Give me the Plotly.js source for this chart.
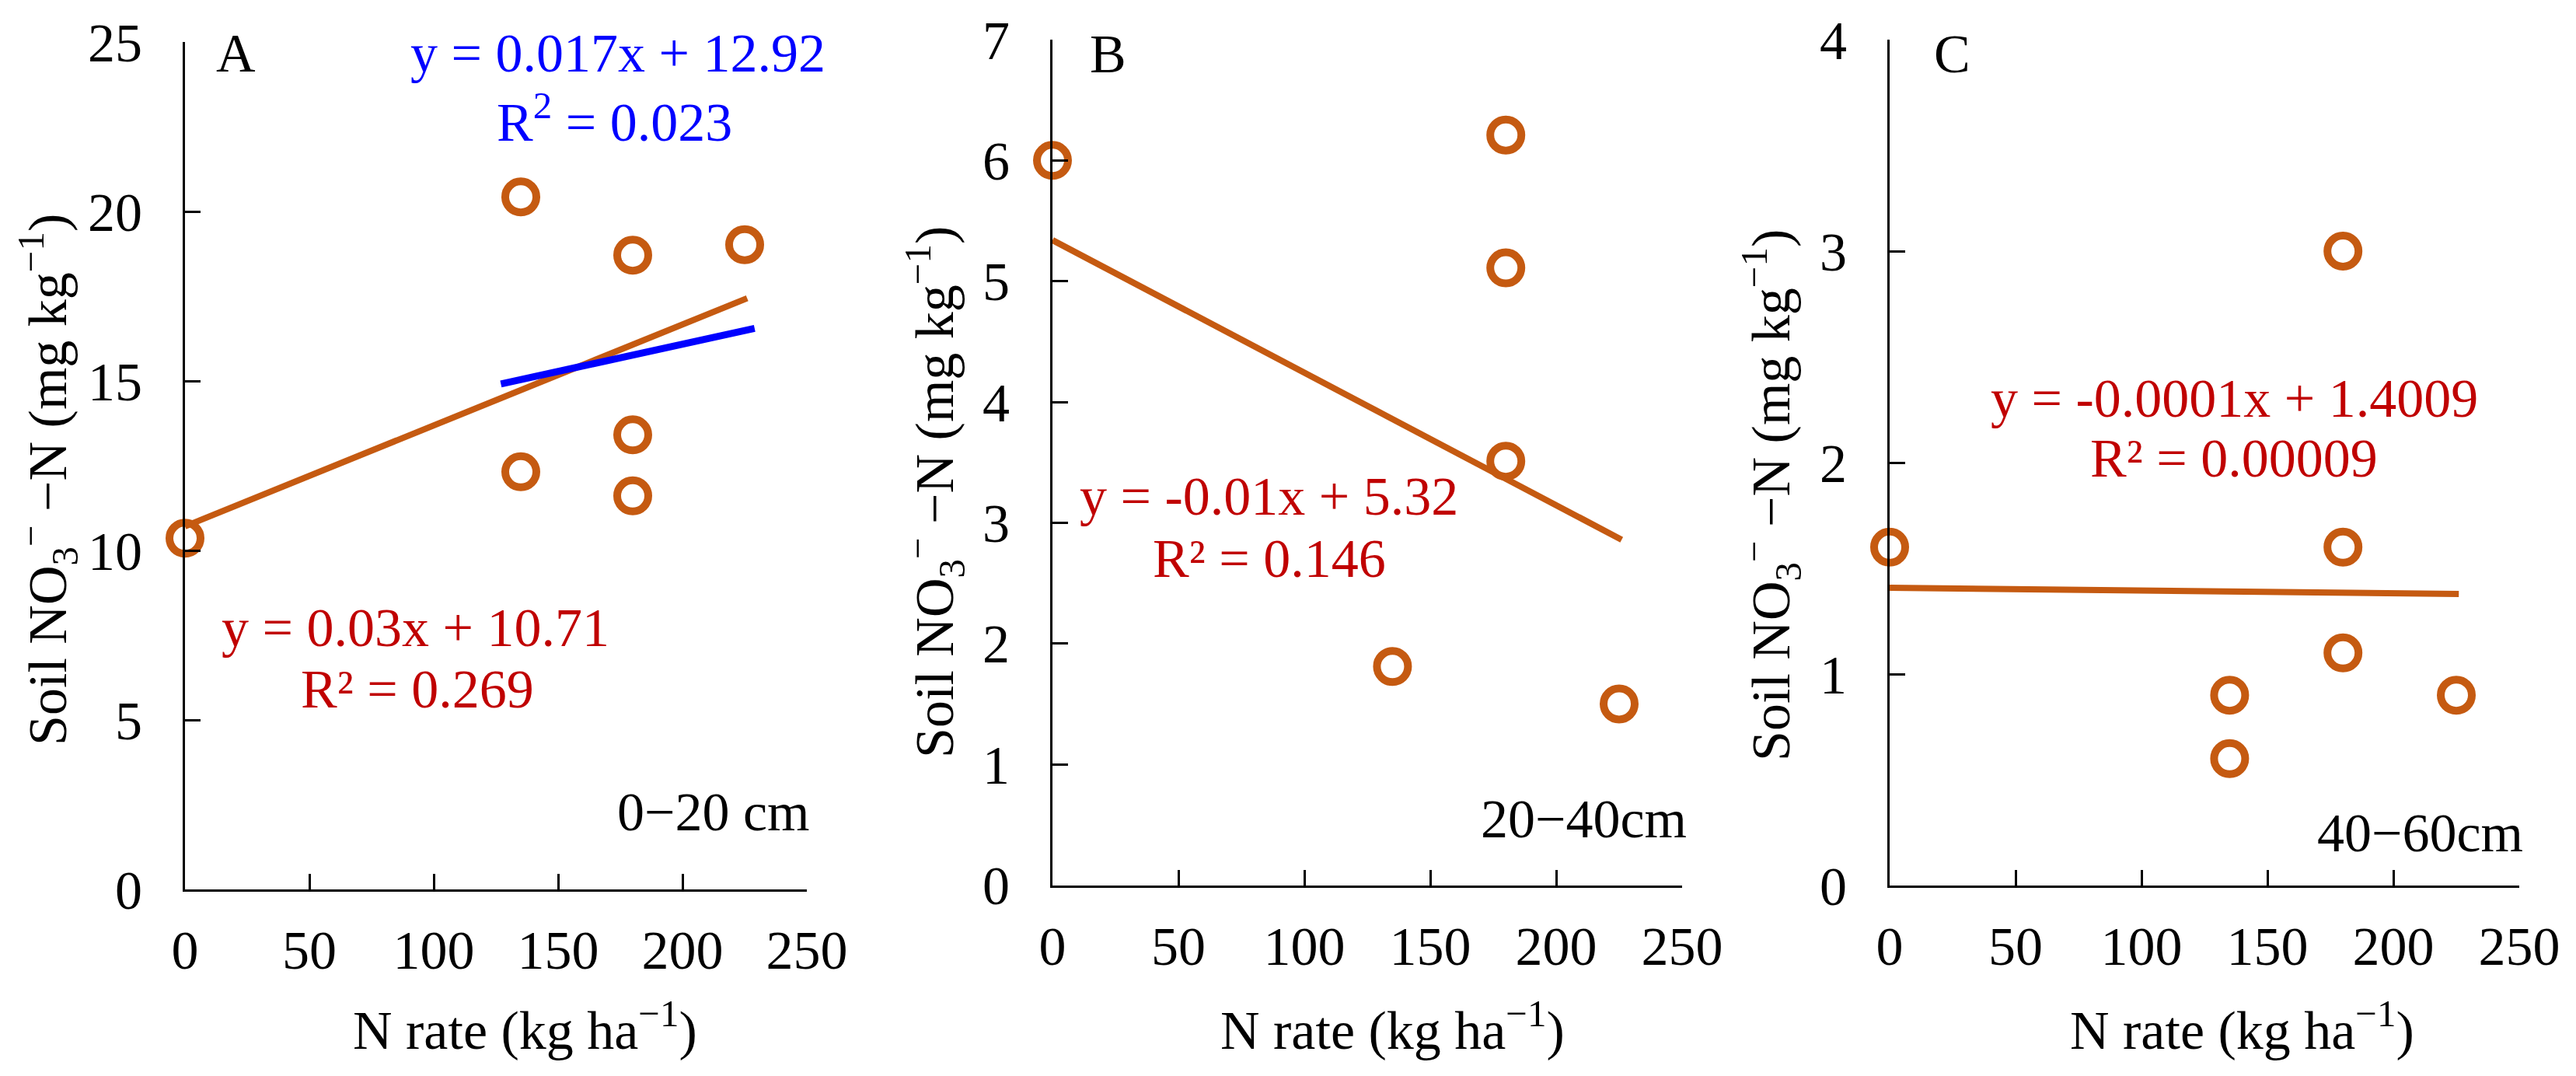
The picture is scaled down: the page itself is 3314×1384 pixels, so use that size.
<!DOCTYPE html>
<html>
<head>
<meta charset="utf-8">
<script src="https://cdn.plot.ly/plotly-3.0.1.min.js"></script>
<style>
  body { margin: 0; background: #fff; }
  #chart { width: 3314px; height: 1384px; }
</style>
</head>
<body>
<div id="chart"></div>
<script>
// N rate (kg/ha) and soil nitrate (mg/kg)
var nRateA = [0, 135, 135, 180, 180, 180, 225];
var nitrateA = [10.36, 20.43, 12.32, 18.71, 13.41, 11.61, 19.02];
var nRateB = [0, 135, 180, 180, 180, 225];
var nitrateB = [6.0, 1.81, 6.21, 5.11, 3.51, 1.5];
var nRateC = [0, 135, 135, 180, 180, 180, 225];
var nitrateC = [1.6, 0.9, 0.6, 3.0, 1.6, 1.1, 0.9];

// trend line ends
var fitAx = [0, 226];
var fitAy = [10.71, 17.44];
var fitBlueX = [127, 229];
var fitBlueY = [14.91, 16.55];
var fitBx = [0, 226];
var fitBy = [5.34, 2.86];
var fitCx = [0, 226];
var fitCy = [1.408, 1.379];

var xTicks = [0, 50, 100, 150, 200, 250];
var yMax = [25, 7, 4];
var yStep = [5, 1, 1];
var panelLetters = ['A', 'B', 'C'];
var depthLabels = ['0\u221220 cm', '20\u221240cm', '40\u221260cm'];

var ORANGE = '#C55A11';
var RED = '#C00000';
var BLUE = '#0000FF';
var FONT = 'Liberation Serif, Times New Roman, serif';
var W = 3314, H = 1384;

function px(x) { return x / W; }
function py(y) { return 1 - y / H; }

function pointsTrace(x, y, ax) {
  return {
    x: x, y: y, xaxis: 'x' + ax, yaxis: 'y' + ax,
    type: 'scatter', mode: 'markers', cliponaxis: false, hoverinfo: 'skip',
    marker: { symbol: 'circle', size: 40, color: 'rgba(0,0,0,0)',
              line: { color: ORANGE, width: 10 } }
  };
}

function lineTrace(x, y, ax, color, width) {
  return {
    x: x, y: y, xaxis: 'x' + ax, yaxis: 'y' + ax,
    type: 'scatter', mode: 'lines', cliponaxis: false, hoverinfo: 'skip',
    line: { color: color, width: width }
  };
}

var data = [
  lineTrace(fitAx, fitAy, '', ORANGE, 8),
  lineTrace(fitBlueX, fitBlueY, '', BLUE, 9),
  pointsTrace(nRateA, nitrateA, ''),
  lineTrace(fitBx, fitBy, '2', ORANGE, 8),
  pointsTrace(nRateB, nitrateB, '2'),
  lineTrace(fitCx, fitCy, '3', ORANGE, 8),
  pointsTrace(nRateC, nitrateC, '3')
];

function xAxis(dom, anchor) {
  return {
    domain: dom, anchor: anchor, range: [0, 250], tickvals: xTicks,
    showline: true, linewidth: 3, linecolor: '#000', mirror: false,
    ticks: 'inside', ticklen: 20, tickwidth: 3, tickcolor: '#000',
    showgrid: false, zeroline: false, ticklabelstandoff: 15,
    tickfont: { family: FONT, size: 70, color: '#000' }
  };
}

function yAxis(dom, anchor, i) {
  return {
    domain: dom, anchor: anchor, range: [0, yMax[i]], dtick: yStep[i], tick0: 0,
    showline: true, linewidth: 3, linecolor: '#000',
    ticks: 'inside', ticklen: 20, tickwidth: 3, tickcolor: '#000',
    showgrid: false, zeroline: false, ticklabelstandoff: 38,
    tickfont: { family: FONT, size: 70, color: '#000' }
  };
}

var panels = [
  { x0: 238, x1: 1038, y0: 1144, y1: 54 },
  { x0: 1354, x1: 2164, y0: 1138.5, y1: 51 },
  { x0: 2431, x1: 3241, y0: 1139, y1: 51 }
];

var layout = {
  width: W, height: H,
  margin: { l: 0, r: 0, t: 0, b: 0 },
  paper_bgcolor: '#fff', plot_bgcolor: 'rgba(0,0,0,0)',
  showlegend: false,
  font: { family: FONT, size: 70, color: '#000' },
  annotations: []
};

var axNames = ['', '2', '3'];
panels.forEach(function (p, i) {
  var xd = [px(p.x0), px(p.x1)];
  var yd = [py(p.y0), py(p.y1)];
  layout['xaxis' + axNames[i]] = xAxis(xd, 'y' + axNames[i]);
  layout['yaxis' + axNames[i]] = yAxis(yd, 'x' + axNames[i], i);
});

function note(text, x, y, color, xanchor, angle) {
  layout.annotations.push({
    text: text, x: px(x), y: py(y), xref: 'paper', yref: 'paper',
    xanchor: xanchor || 'center', yanchor: 'middle', showarrow: false,
    textangle: angle || 0,
    font: { family: FONT, size: 70, color: color || '#000' }
  });
}

var yTitle = 'Soil NO<sub>3</sub><sup>\u2212</sup> \u2212N (mg kg<sup>\u22121</sup>)';
var xTitle = 'N rate (kg ha<sup>\u22121</sup>)';

// axis titles
note(yTitle, 62, 617, '#000', 'center', -90);
note(yTitle, 1202, 633, '#000', 'center', -90);
note(yTitle, 2279, 637, '#000', 'center', -90);
note(xTitle, 675, 1320);
note(xTitle, 1791, 1320);
note(xTitle, 2884, 1320);

// panel letters and depth labels
note(panelLetters[0], 303, 69);
note(panelLetters[1], 1425, 70);
note(panelLetters[2], 2511, 70);
note(depthLabels[0], 1044, 1044, '#000', 'right');
note(depthLabels[1], 2172, 1053, '#000', 'right');
note(depthLabels[2], 3248, 1071, '#000', 'right');

// regression equations
note('y = 0.017x + 12.92', 795, 69, BLUE);
note('R<sup>2</sup> = 0.023', 790, 152, BLUE);
note('y = 0.03x + 10.71', 534, 807, RED);
note('R\u00b2 = 0.269', 537, 886, RED);
note('y = -0.01x + 5.32', 1632, 638, RED);
note('R\u00b2 = 0.146', 1633, 718, RED);
note('y = -0.0001x + 1.4009', 2874, 512, RED);
note('R\u00b2 = 0.00009', 2874, 590, RED);

Plotly.newPlot('chart', data, layout, { staticPlot: true });
</script>
</body>
</html>
